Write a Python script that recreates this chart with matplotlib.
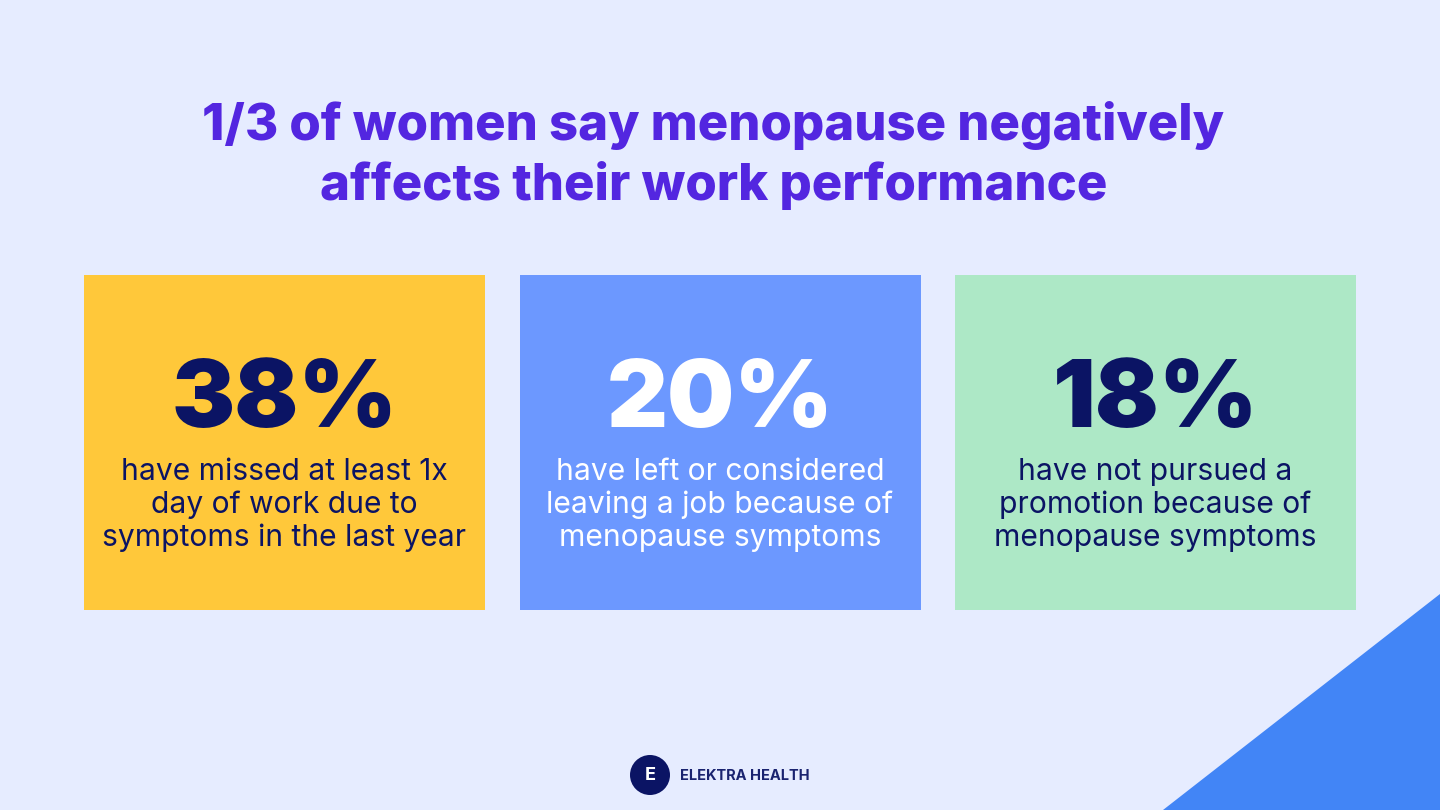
import matplotlib
matplotlib.use("Agg")
import matplotlib.pyplot as plt
from matplotlib.patches import Rectangle, Polygon, Circle

title_lines = ["1/3 of women say menopause negatively", "affects their work performance"]
percent_values = [38, 20, 18]
card_texts = [
    ["have missed at least 1x", "day of work due to", "symptoms in the last year"],
    ["have left or considered", "leaving a job because of", "menopause symptoms"],
    ["have not pursued a", "promotion because of", "menopause symptoms"],
]
card_colors = ["#FFC83A", "#6C98FF", "#ADE8C6"]
percent_colors = ["#0B1464", "#FFFFFF", "#0B1464"]
text_colors = ["#0B1464", "#FFFFFF", "#0B1464"]
card_lefts = [84, 519.5, 955]
brand = "ELEKTRA HEALTH"

BG = "#E6ECFF"
fig = plt.figure(figsize=(14.4, 8.1), dpi=100, facecolor=BG)
ax = fig.add_axes([0, 0, 1, 1])
ax.set_xlim(0, 1440)
ax.set_ylim(810, 0)
ax.axis("off")
F = "Inter"

ax.add_patch(Polygon([(1440, 594), (1440, 810), (1163, 810)], fc="#4285F6", ec="none"))

for i, line in enumerate(title_lines):
    ax.text(713.5, 126 + i * 59, line, ha="center", va="center", family=F,
            fontsize=36.6, fontweight="heavy", color="#5326E0")

for x, v, lines, c, pc, tc in zip(card_lefts, percent_values, card_texts, card_colors, percent_colors, text_colors):
    ax.add_patch(Rectangle((x, 275), 401, 335, fc=c, ec="none"))
    ax.text(x + 200.5, 403, f"{v}%", ha="center", va="center", family=F, fontsize=68,
            fontweight="black", color=pc)
    for j, l in enumerate(lines):
        ax.text(x + 200.5, 472 + j * 33, l, ha="center", va="center", family=F, fontsize=21.6,
                color=tc)

ax.add_patch(Circle((650, 775), 20, fc="#0B1464", ec="none"))
ax.text(650, 775.5, "E", ha="center", va="center", family=F, fontsize=13, fontweight="bold", color="white")
ax.text(680, 776, brand, ha="left", va="center", family=F, fontsize=10.5, fontweight="bold", color="#1A2370")

fig.savefig("out.png", dpi=100, facecolor=BG)
